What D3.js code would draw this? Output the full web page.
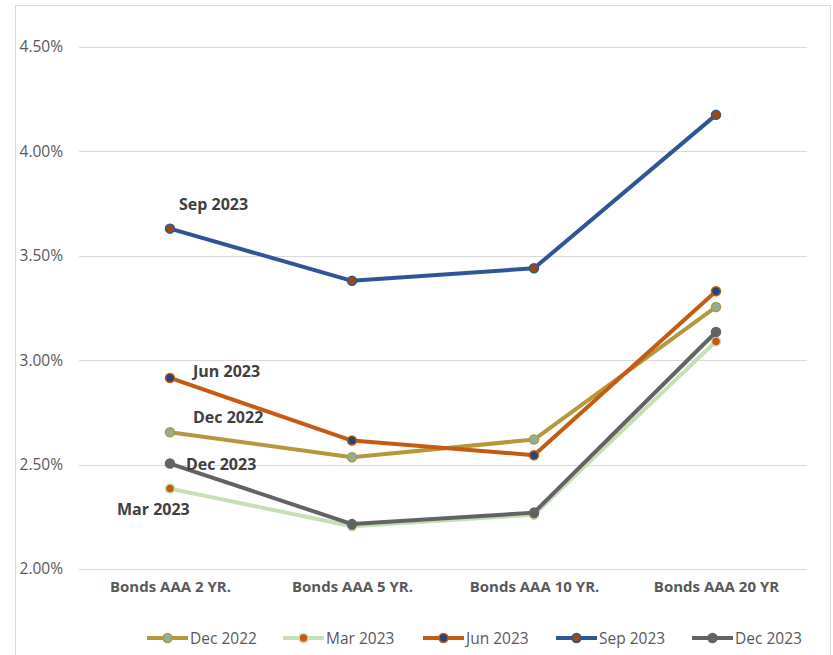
<!DOCTYPE html>
<html>
<head>
<meta charset="utf-8">
<script src="https://cdn.jsdelivr.net/npm/d3@7"></script>
<style>
  body { margin: 0; background: #fff; }
  svg { display: block; }
  text { font-family: "Open Sans", "Liberation Sans", sans-serif; }
</style>
</head>
<body>
<svg id="chart" width="833" height="655"></svg>
<script>
// ---- data ----
const categories = ["Bonds AAA 2 YR.", "Bonds AAA 5 YR.", "Bonds AAA 10 YR.", "Bonds AAA 20 YR"];
const seriesNames = ["Dec 2022", "Mar 2023", "Jun 2023", "Sep 2023", "Dec 2023"];
const dec2022 = [2.655, 2.535, 2.62, 3.255];
const mar2023 = [2.385, 2.205, 2.26, 3.09];
const jun2023 = [2.915, 2.615, 2.545, 3.33];
const sep2023 = [3.63, 3.38, 3.44, 4.175];
const dec2023 = [2.505, 2.215, 2.27, 3.135];
const yTicks = [2.0, 2.5, 3.0, 3.5, 4.0, 4.5];

// ---- styles ----
const FONT = '"Open Sans", "Liberation Sans", sans-serif';
const styles = [
  { line: "#B5983B", fill: "#8FAE9F", stroke: "#B5983B" },
  { line: "#C5E0B4", fill: "#C55A11", stroke: "#C5E0B4" },
  { line: "#C55A11", fill: "#264478", stroke: "#C55A11" },
  { line: "#2F5597", fill: "#9E480E", stroke: "#2F5597" },
  { line: "#636363", fill: "#636363", stroke: "#636363" }
];
// label offsets relative to first point (dx, dy of text start/baseline)
const labelOffsets = [
  { dx: 23, dy: -9 },
  { dx: -53, dy: 26 },
  { dx: 23, dy: -1 },
  { dx: 9, dy: -19 },
  { dx: 16, dy: 6 }
];
const seriesValues = [dec2022, mar2023, jun2023, sep2023, dec2023];
const series = seriesNames.map((n, i) => ({ name: n, values: seriesValues[i], style: styles[i], lab: labelOffsets[i] }));

const svg = d3.select("#chart");

// frame
svg.append("rect").attr("x", 15.5).attr("y", 5.5).attr("width", 815).attr("height", 660)
  .attr("fill", "none").attr("stroke", "#D9D9D9").attr("stroke-width", 1);

const x = d3.scalePoint().domain(categories).range([79, 807]).padding(0.5);
const y = d3.scaleLinear().domain([2.0, 4.5]).range([569, 47]);

// gridlines
svg.append("g").selectAll("line").data(yTicks).join("line")
  .attr("x1", 79).attr("x2", 807)
  .attr("y1", d => Math.round(y(d)) + 0.5).attr("y2", d => Math.round(y(d)) + 0.5)
  .attr("stroke", "#D9D9D9").attr("stroke-width", 1);

// y axis labels
const yAxis = d3.axisLeft(y).tickValues(yTicks).tickSize(0).tickPadding(0)
  .tickFormat(d => d3.format(".2f")(d) + "%");
const ga = svg.append("g").attr("transform", "translate(63,0)").call(yAxis);
ga.select(".domain").remove();
ga.selectAll("text").attr("font-size", 15.5).attr("fill", "#595959")
  .style("font-family", FONT);

// x axis labels
const xAxis = d3.axisBottom(x).tickSize(0).tickPadding(0);
const gx = svg.append("g").attr("transform", "translate(0,581)").call(xAxis);
gx.select(".domain").remove();
gx.selectAll("text").attr("font-size", 15).attr("font-weight", "bold").attr("fill", "#595959")
  .style("font-family", FONT);

// lines
const line = d3.line().x((d, i) => x(categories[i])).y(d => y(d));
const gs = svg.append("g").selectAll("g").data(series).join("g");
gs.append("path").attr("d", d => line(d.values)).attr("fill", "none")
  .attr("stroke", d => d.style.line).attr("stroke-width", 4).attr("stroke-linejoin", "round");
gs.each(function (s) {
  d3.select(this).selectAll("circle").data(s.values).join("circle")
    .attr("cx", (d, i) => x(categories[i])).attr("cy", d => y(d)).attr("r", 4.5)
    .attr("fill", s.style.fill).attr("stroke", s.style.stroke).attr("stroke-width", 1.5);
});

// data labels (at first point)
gs.append("text")
  .attr("x", d => x(categories[0]) + d.lab.dx)
  .attr("y", d => y(d.values[0]) + d.lab.dy)
  .attr("font-size", 16).attr("font-weight", "bold").attr("fill", "#404040")
  .text(d => d.name);

// legend
const legendX = [147, 283, 423, 556, 692];
const lg = svg.append("g").selectAll("g").data(series).join("g")
  .attr("transform", (d, i) => `translate(${legendX[i]},638)`);
lg.append("line").attr("x1", 0).attr("x2", 41).attr("y1", 0).attr("y2", 0)
  .attr("stroke", d => d.style.line).attr("stroke-width", 4);
lg.append("circle").attr("cx", 20.5).attr("cy", 0).attr("r", 4.5)
  .attr("fill", d => d.style.fill).attr("stroke", d => d.style.stroke).attr("stroke-width", 1.5);
lg.append("text").attr("x", 43).attr("y", 5.5).attr("font-size", 15.5).attr("fill", "#595959")
  .text(d => d.name);
</script>
</body>
</html>
